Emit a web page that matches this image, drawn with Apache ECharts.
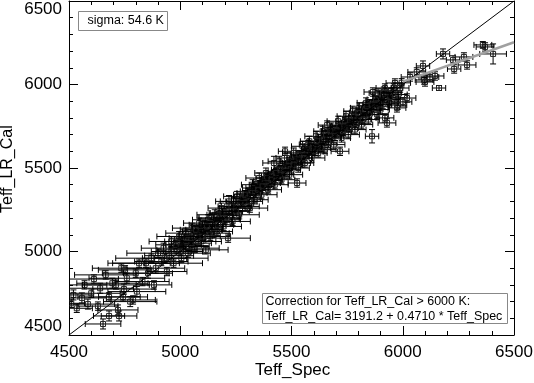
<!DOCTYPE html>
<html>
<head>
<meta charset="utf-8">
<script src="https://cdn.jsdelivr.net/npm/echarts@6/dist/echarts.min.js"></script>
<style>
html,body{margin:0;padding:0;background:#fff;}
#main{width:534px;height:383px;}
</style>
</head>
<body>
<div id="main"></div>
<script>
// [Teff_Spec, Teff_LR_Cal, err_spec, err_cal]
var coolStars = [
  [4510,4690,60,25],[4520,4740,90,30],[4535,4660,70,25],[4558,4722,110,30],[4570,4800,100,25],
  [4585,4685,120,30],[4600,4750,130,25],[4612,4835,110,25],[4630,4673,90,25],[4640,4780,150,30],
  [4653,4566,80,30],[4665,4860,140,25],[4680,4614,70,30],[4680,4728,140,25],[4695,4810,160,30],
  [4711,4800,150,25],[4720,4650,90,30],[4725,4614,80,30],[4735,4900,130,25],[4743,4728,110,25],
  [4747,4775,140,30],[4752,4890,120,25],[4760,4840,170,30],[4775,4700,120,30],[4788,4710,100,25],
  [4800,4870,150,25],[4805,4760,130,30],[4815,4930,140,25],[4830,4820,120,25],[4846,4930,150,25],
  [4855,4870,110,30],[4870,4960,160,25],[4882,4800,80,25],[4890,4900,130,30],[4900,4990,140,25]
];
var midStars = [
  [4915,4940,120,25],[4925,5020,100,30],[4940,4880,90,25],[4950,4975,110,25],[4960,5060,100,30],
  [4970,4930,130,25],[4985,5010,90,25],[4995,5090,100,30],[5005,4960,120,25],[5015,5040,80,25],
  [5025,5110,90,30],[5035,4990,100,25],[5045,5070,70,25],[5055,5140,90,30],[5065,5020,110,25],
  [5075,5100,80,25],[5085,5170,70,30],[5095,5060,90,25],[5105,5130,80,25],[5115,5010,100,25],
  [5125,5190,70,30],[5135,5090,90,25],[5145,5160,60,25],[5155,5220,80,30],[5165,5120,70,25],
  [5175,5200,90,25],[5185,5260,60,30],[5195,5150,80,25],[5205,5230,70,25],[5215,5080,100,25],
  [5219,5300,60,35],[5235,5180,80,25],[5245,5260,70,25],[5255,5330,60,30],[5265,5220,90,25],
  [5275,5300,70,25],[5295,5270,60,25],[5305,5350,50,25],[5313,5260,80,25],[5325,5400,50,30],
  [5335,5310,60,25],[5345,5380,50,25],[5355,5440,60,30],[5365,5340,70,25],[5375,5410,50,25],
  [5385,5470,50,30],[5395,5370,60,25],[5405,5450,40,25],[5421,5530,50,40],[5425,5400,60,25],
  [5435,5480,40,25],[5445,5540,50,30],[5455,5430,60,25],[5465,5500,40,25],[5471,5600,30,25],
  [5480,5560,50,30],[5490,5460,60,25],[5500,5530,40,25],[5510,5590,50,30],[5525,5410,40,25],
  [5530,5500,50,25],[5540,5570,40,25],[5550,5630,50,30],[5560,5530,40,25],[5570,5600,50,25],
  [5580,5660,40,30],[5590,5560,60,25],[5600,5630,40,25],[5610,5690,50,30],[5620,5590,40,25],
  [5630,5660,50,25],[5640,5720,40,30],[5650,5610,50,25],[5660,5757,40,25],[5670,5680,50,25],
  [5680,5740,40,30],[5690,5640,50,25],[5700,5710,40,25],[5710,5780,50,30],[5718,5600,40,25],
  [5725,5680,40,25],[5735,5750,50,25],[5745,5810,40,30],[5755,5700,50,25],[5765,5770,40,25],
  [5775,5840,40,30],[5785,5730,50,25],[5795,5800,40,25],[5805,5860,40,30],[5815,5760,50,25],
  [5825,5830,40,25],[5835,5890,40,30],[5845,5790,50,25],[5855,5850,40,25],[5862,5690,30,40],
  [5866,5955,40,25],[5875,5900,40,30],[5885,5820,50,25],[5895,5870,40,25],[5905,5930,40,30],
  [5920,5800,40,25],[5929,5770,40,25],[5940,5890,40,25],[5955,5950,40,30],[5974,5860,40,25]
];
var midStars2 = [
  [4960,5000,90,25],[5010,5060,80,25],[5040,5030,90,25],[5060,5090,70,25],[5090,5120,80,25],
  [5110,5160,70,25],[5130,5130,60,25],[5160,5180,70,25],[5180,5220,60,25],[5200,5190,70,25],
  [5220,5240,60,25],[5240,5300,60,25],[5260,5270,60,25],[5280,5320,50,25],[5300,5320,60,25],
  [5320,5360,50,25],[5340,5350,50,25],[5360,5400,50,25],[5380,5420,50,25],[5400,5410,50,25],
  [5420,5460,40,25],[5440,5450,50,25],[5460,5480,40,25],[5480,5510,40,25],[5500,5490,40,25],
  [5520,5550,40,25],[5545,5530,40,25],[5565,5580,40,25],[5585,5610,40,25],[5605,5600,40,25],
  [5625,5640,40,25],[5645,5670,40,25],[5665,5650,40,25],[5685,5700,40,25],[5705,5730,40,25],
  [5730,5720,40,25],[5750,5760,40,25],[5770,5790,40,25],[5790,5770,40,25],[5810,5810,40,25],
  [5830,5850,40,25],[5850,5820,40,25],[5870,5860,40,25],[5890,5890,40,25],[5910,5880,40,25],
  [5930,5920,40,25],[5950,5910,40,25]
];
var midStars3 = [
  [4930,4960,100,25],[4980,5040,90,25],[5000,5000,100,25],[5030,5080,80,25],[5050,5050,90,25],
  [5070,5130,70,25],[5080,5060,80,25],[5100,5090,80,25],[5120,5150,70,25],[5140,5200,60,25],
  [5150,5110,70,25],[5170,5160,70,25],[5190,5230,60,25],[5210,5200,60,25],[5230,5270,60,25],
  [5250,5240,60,25],[5270,5290,60,25],[5290,5340,50,25],[5310,5300,60,25],[5330,5380,50,25],
  [5350,5370,50,25],[5370,5390,50,25],[5390,5440,50,25],[5410,5430,50,25],[5430,5470,40,25],
  [5450,5490,40,25],[5470,5460,40,25],[5490,5540,40,25],[5510,5520,40,25],[5535,5580,40,25],
  [5555,5560,40,25],[5575,5640,40,25],[5595,5620,40,25],[5615,5660,40,25],[5635,5620,40,25],
  [5655,5700,40,25],[5675,5720,40,25],[5695,5690,40,25],[5715,5750,40,25],[5740,5780,40,25],
  [5760,5740,40,25],[5780,5810,40,25],[5800,5830,40,25],[5820,5790,40,25],[5840,5870,40,25],
  [5860,5880,40,25],[5880,5910,40,25],[5900,5850,40,25],[5915,5960,40,25],[5935,5950,40,25],
  [5960,5980,40,25],[5980,5940,40,25],[5995,6010,40,25]
];
var hotStars = [
  [5889,5949,40,25],[5920,5979,40,25],[5943,5925,40,25],[5965,6009,40,25],[5978,5877,40,25],
  [5988,5979,40,25],[6001,5896,40,25],[6019,5919,40,25],[6033,6045,40,25],[6063,6075,40,25],
  [6091,6111,30,30],[6096,6027,40,25],[6100,6015,40,25],[6122,6045,40,25],[6145,6051,40,25],
  [6163,5979,30,15],[6181,6183,30,30],[6226,6147,30,25],[6231,6093,30,25],[6275,6165,40,25],
  [6289,6117,40,25],[6360,6237,40,20],[6370,6225,40,25],[6406,6183,60,60]
];

var sigmaText = 'sigma: 54.6 K';
var fitCut = 6000;
var fitA = 3191.2;
var fitB = 0.4710;
var fitText = ['Correction for Teff_LR_Cal > 6000 K:', 'Teff_LR_Cal= 3191.2 + 0.4710 * Teff_Spec'];
var tickLabels = ['4500', '5000', '5500', '6000', '6500'];

var allStars = coolStars.concat(midStars, midStars2, midStars3, hotStars);

var chart = echarts.init(document.getElementById('main'));

var fnt = 'Liberation Sans';

function errBar(params, api) {
  var x = api.value(0), y = api.value(1), ex = api.value(2), ey = api.value(3);
  var c = api.coord([x, y]);
  var xl = api.coord([x - ex, y])[0], xr = api.coord([x + ex, y])[0];
  var yt = api.coord([x, y + ey])[1], yb = api.coord([x, y - ey])[1];
  var st = { stroke: '#000', lineWidth: 1 };
  var cap = 3;
  return {
    type: 'group',
    children: [
      { type: 'line', shape: { x1: xl, y1: c[1], x2: xr, y2: c[1] }, style: st },
      { type: 'line', shape: { x1: xl, y1: c[1] - cap, x2: xl, y2: c[1] + cap }, style: st },
      { type: 'line', shape: { x1: xr, y1: c[1] - cap, x2: xr, y2: c[1] + cap }, style: st },
      { type: 'line', shape: { x1: c[0], y1: yt, x2: c[0], y2: yb }, style: st },
      { type: 'line', shape: { x1: c[0] - cap, y1: yt, x2: c[0] + cap, y2: yt }, style: st },
      { type: 'line', shape: { x1: c[0] - cap, y1: yb, x2: c[0] + cap, y2: yb }, style: st },
      { type: 'rect', shape: { x: c[0] - 2.5, y: c[1] - 2.5, width: 5, height: 5 }, style: { stroke: '#222', fill: null, lineWidth: 1 } }
    ]
  };
}

var axisCommon = {
  min: 4500, max: 6500, interval: 500,
  axisLine: { show: true, onZero: false, lineStyle: { color: '#000', width: 1 } },
  axisTick: { show: true, inside: true, length: 9, lineStyle: { color: '#000' } },
  minorTick: { show: true, splitNumber: 5, length: 4, lineStyle: { color: '#000' } },
  splitLine: { show: false }
};

function xLab(v) {
  return String(v);
}

function yLab(v) {
  var s = String(v);
  if (tickLabels.indexOf(s) < 0) return '';
  if (v === 4500) return '{b|' + s + '}';
  if (v === 6500) return '{t|' + s + '}';
  return s;
}

var option = {
  backgroundColor: '#fff',
  animation: false,
  grid: { left: 69, right: 20, top: 1, bottom: 48, containLabel: false, outerBoundsMode: 'none' },
  xAxis: [
    Object.assign({}, axisCommon, {
      type: 'value', position: 'bottom',
      axisLabel: { fontFamily: fnt, fontSize: 17, color: '#000', margin: 9, formatter: xLab }
    }),
    Object.assign({}, axisCommon, { type: 'value', position: 'top', axisLabel: { show: false } })
  ],
  yAxis: [
    Object.assign({}, axisCommon, {
      type: 'value', position: 'left',
      axisLabel: {
        fontFamily: fnt, fontSize: 17, color: '#000', margin: 7,
        formatter: yLab,
        rich: {
          b: { fontFamily: fnt, fontSize: 17, color: '#000', padding: [0, 0, 18, 0] },
          t: { fontFamily: fnt, fontSize: 17, color: '#000', padding: [16, 0, 0, 0] }
        }
      }
    }),
    Object.assign({}, axisCommon, { type: 'value', position: 'right', axisLabel: { show: false } })
  ],
  series: [
    {
      type: 'custom',
      renderItem: errBar,
      data: allStars,
      clip: true,
      encode: { x: 0, y: 1 },
      z: 2
    },
    {
      type: 'line',
      data: [[4500, 4500], [6500, 6500]],
      symbol: 'none',
      lineStyle: { color: '#000', width: 1 },
      z: 3
    },
    {
      type: 'line',
      data: [[fitCut, fitA + fitB * fitCut], [6500, fitA + fitB * 6500]],
      symbol: 'none',
      lineStyle: { color: '#a0a0a0', width: 2.5 },
      z: 4
    }
  ],
  graphic: [
    {
      type: 'text', left: 255, top: 362,
      style: { text: 'Teff_Spec', fontFamily: fnt, fontSize: 17, fill: '#000' }
    },
    {
      type: 'text', x: 0, y: 213, rotation: Math.PI / 2,
      style: { text: 'Teff_LR_Cal', fontFamily: fnt, fontSize: 16, fill: '#000' }
    },
    {
      type: 'group', left: 78, top: 11,
      children: [
        { type: 'rect', shape: { x: 0, y: 0, width: 89, height: 19 }, style: { fill: '#fff', stroke: '#888', lineWidth: 1 } },
        { type: 'text', x: 9, y: 3, style: { text: sigmaText, fontFamily: fnt, fontSize: 12.5, fill: '#000' } }
      ]
    },
    {
      type: 'group', left: 262, top: 293,
      children: [
        { type: 'rect', shape: { x: 0, y: 0, width: 245, height: 30 }, style: { fill: '#fff', stroke: '#888', lineWidth: 1 } },
        { type: 'text', x: 3, y: 1, scaleX: 1.04, style: { text: fitText.join('\n'), fontFamily: fnt, fontSize: 12, fill: '#000', lineHeight: 14.5 } }
      ]
    }
  ]
};

chart.setOption(option);
</script>
</body>
</html>
